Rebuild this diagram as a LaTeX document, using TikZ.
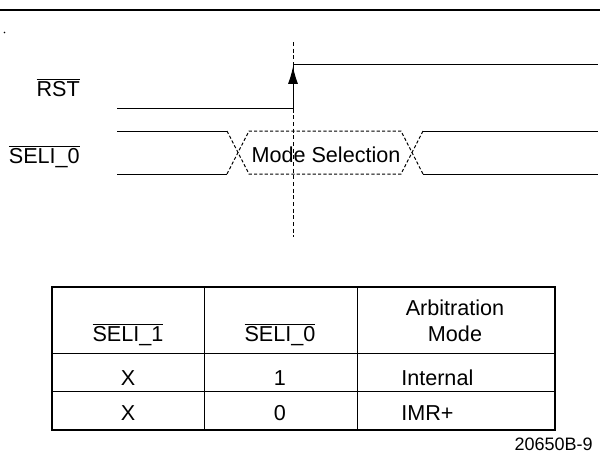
\documentclass[tikz,border=0pt]{standalone}
\usepackage{fontspec}
\setmainfont{Liberation Sans}
\usetikzlibrary{arrows.meta}

\newcommand{\actlow}[1]{$\overline{\mbox{#1}}$}

\begin{document}
\begin{tikzpicture}[x=0.75pt,y=-0.75pt,
    sig/.style={line width=0.75pt},
    dotline/.style={line width=0.75pt, dash pattern=on 2.4pt off 1.6pt},
    txt/.style={font=\fontsize{16.2}{19}\selectfont, inner sep=0pt}]
    \useasboundingbox (0,0) rectangle (600,454);

    % Top rule and stray dot
    \draw[line width=2.2pt] (0,10) -- (600,10);
    \fill (4.5,32.5) circle (0.9);

    % Signal names
    \node[txt, anchor=base east] (rstlbl) at (80,96) {\actlow{RST}};
    \node[txt, anchor=base east] (sellbl) at (80,163) {\actlow{SELI\_0}};

    % Reference edge
    \coordinate (vtop) at (293,42);
    \coordinate (vbot) at (293,237);
    \draw[dotline, dash pattern=on 3pt off 2pt] (vtop) -- (vbot);

    % RST waveform
    \coordinate (r0) at (117,108);
    \coordinate (r1) at (293,108);
    \coordinate (r2) at (293,64);
    \coordinate (r3) at (598,64);
    \coordinate (rtip) at (293,66.5);
    \draw[sig] (r0) -- (r1) -- (r2) -- (r3);
    \draw[sig, -{Latex[length=13pt,width=7.5pt]}] (r1) -- (rtip);

    % SELI_0 waveform
    \coordinate (a1) at (117,131);
    \coordinate (a2) at (227,131);
    \coordinate (b1) at (117,174);
    \coordinate (b2) at (227,174);
    \coordinate (c1) at (249,131);
    \coordinate (c2) at (249,174);
    \coordinate (d1) at (401,131);
    \coordinate (d2) at (401,174);
    \coordinate (e1) at (423,131);
    \coordinate (e2) at (423,174);
    \coordinate (f1) at (598,131);
    \coordinate (f2) at (598,174);
    \draw[sig] (a1) -- (a2);
    \draw[sig] (b1) -- (b2);
    \draw[dotline] (a2) -- (c2) -- (d2) -- (e1);
    \draw[dotline] (b2) -- (c1) -- (d1) -- (e2);
    \draw[sig] (e1) -- (f1);
    \draw[sig] (e2) -- (f2);
    \node[txt, anchor=base] (mode) at (326,162.5) {Mode Selection};

    % Table frame
    \draw[line width=1.5pt] (52,287) rectangle (555,430);
    \draw[sig] (52,353) -- (555,353);
    \draw[sig] (52,391) -- (555,391);
    \draw[sig] (204,287) -- (204,430);
    \draw[sig] (357,287) -- (357,430);

    % Table header
    \node[txt, anchor=base] (h1) at (128,341) {\actlow{SELI\_1}};
    \node[txt, anchor=base] (h2) at (280,341) {\actlow{SELI\_0}};
    \node[txt, anchor=base] (h3a) at (455,315) {Arbitration};
    \node[txt, anchor=base] (h3b) at (455,341) {Mode};

    % Table rows
    \node[txt, anchor=base] (x1) at (128,385) {X};
    \node[txt, anchor=base] (v1) at (280,385) {1};
    \node[txt, anchor=base west] (m1) at (401,385) {Internal};
    \node[txt, anchor=base] (x2) at (128,420) {X};
    \node[txt, anchor=base] (v2) at (280,420) {0};
    \node[txt, anchor=base west] (m2) at (401,420) {IMR+};

    % Figure number
    \node[font=\fontsize{13.5}{16}\selectfont, inner sep=0pt, anchor=base east] (fig) at (593,450) {20650B-9};
\end{tikzpicture}
\end{document}
